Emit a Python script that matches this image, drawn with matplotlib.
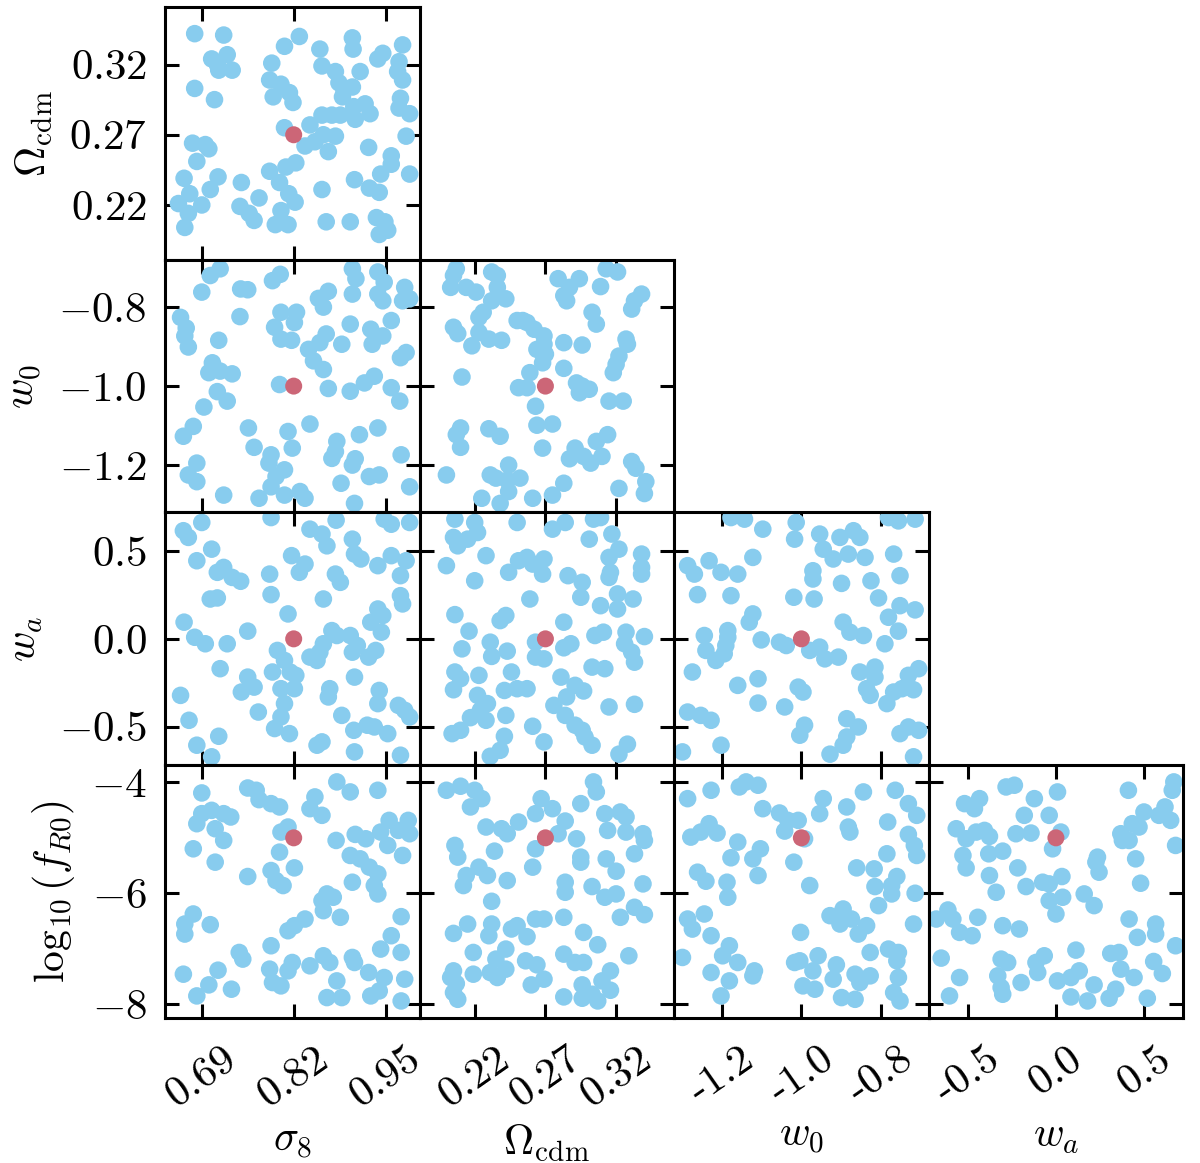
import matplotlib.pyplot as plt

plt.rcParams["mathtext.fontset"] = "cm"
plt.rcParams["font.family"] = ["cmr10", "DejaVu Serif"]
plt.rcParams["axes.unicode_minus"] = False

# parameter order: sigma8, Omega_cdm, w0, wa, log10 fR0
labels = [r"$\sigma_8$", r"$\Omega_{\mathrm{cdm}}$", r"$w_0$", r"$w_a$", r"$\log_{10}(f_{R0})$"]
fiducial = [0.82, 0.27, -1.0, 0.0, -5.0]
limits = [(0.638, 0.998), (0.181, 0.361), (-1.32, -0.68), (-0.72, 0.72), (-8.25, -3.69)]
ticks = [[0.69, 0.82, 0.95], [0.22, 0.27, 0.32], [-1.2, -1.0, -0.8], [-0.5, 0.0, 0.5], [-8, -6, -4]]
tick_text = [["0.69", "0.82", "0.95"], ["0.22", "0.27", "0.32"], ["-1.2", "-1.0", "-0.8"],
             ["-0.5", "0.0", "0.5"], ["-8", "-6", "-4"]]

# sample points, (x, y)
s8_om = [(0.680, 0.342), (0.721, 0.341), (0.704, 0.324), (0.726, 0.327), (0.714, 0.316), (0.733, 0.316),
         (0.712, 0.320), (0.680, 0.303), (0.708, 0.295), (0.677, 0.264), (0.695, 0.263), (0.700, 0.260),
         (0.683, 0.251), (0.665, 0.239), (0.713, 0.240), (0.702, 0.231), (0.673, 0.228), (0.657, 0.221),
         (0.690, 0.220), (0.671, 0.214), (0.666, 0.204), (0.746, 0.236), (0.744, 0.219), (0.757, 0.214),
         (0.764, 0.209), (0.771, 0.225), (0.794, 0.206), (0.812, 0.206), (0.802, 0.216), (0.786, 0.244),
         (0.800, 0.236), (0.809, 0.247), (0.823, 0.250), (0.813, 0.228), (0.822, 0.222), (0.807, 0.333),
         (0.828, 0.340), (0.789, 0.321), (0.786, 0.309), (0.802, 0.306), (0.814, 0.300), (0.791, 0.297),
         (0.819, 0.293), (0.807, 0.275), (0.843, 0.277), (0.836, 0.262), (0.850, 0.265), (0.862, 0.270),
         (0.879, 0.269), (0.869, 0.258), (0.860, 0.284), (0.874, 0.284), (0.886, 0.284), (0.905, 0.290),
         (0.921, 0.292), (0.907, 0.281), (0.928, 0.285), (0.926, 0.261), (0.857, 0.331), (0.860, 0.319),
         (0.879, 0.315), (0.884, 0.307), (0.891, 0.302), (0.889, 0.297), (0.903, 0.304), (0.903, 0.339),
         (0.904, 0.331), (0.914, 0.315), (0.939, 0.324), (0.946, 0.328), (0.974, 0.334), (0.969, 0.322),
         (0.967, 0.315), (0.974, 0.309), (0.971, 0.296), (0.969, 0.289), (0.984, 0.285), (0.979, 0.269),
         (0.958, 0.255), (0.958, 0.249), (0.943, 0.242), (0.984, 0.242), (0.906, 0.238), (0.927, 0.232),
         (0.941, 0.229), (0.860, 0.231), (0.866, 0.208), (0.900, 0.208), (0.937, 0.211), (0.949, 0.208),
         (0.941, 0.199), (0.953, 0.202)]

s8_w0 = [(0.716, -0.703), (0.702, -0.720), (0.690, -0.762), (0.745, -0.754), (0.755, -0.756), (0.790, -0.733),
         (0.801, -0.717), (0.744, -0.824), (0.660, -0.826), (0.668, -0.853), (0.666, -0.873), (0.671, -0.901),
         (0.714, -0.884), (0.705, -0.941), (0.700, -0.966), (0.716, -0.962), (0.733, -0.969), (0.712, -1.014),
         (0.726, -1.038), (0.693, -1.053), (0.678, -1.102), (0.664, -1.127), (0.683, -1.195), (0.671, -1.225),
         (0.683, -1.242), (0.721, -1.276), (0.756, -1.106), (0.764, -1.155), (0.788, -1.174), (0.785, -1.195),
         (0.807, -1.212), (0.795, -1.229), (0.788, -1.255), (0.771, -1.284), (0.807, -1.276), (0.829, -1.267),
         (0.836, -1.284), (0.812, -1.115), (0.818, -1.157), (0.843, -1.096), (0.800, -0.996), (0.802, -0.813),
         (0.824, -0.813), (0.821, -0.839), (0.793, -0.851), (0.802, -0.881), (0.817, -0.884), (0.841, -0.907),
         (0.857, -0.890), (0.866, -0.868), (0.848, -0.936), (0.862, -0.958), (0.855, -0.778), (0.869, -0.760),
         (0.862, -0.800), (0.888, -0.894), (0.900, -0.843), (0.903, -0.703), (0.908, -0.728), (0.903, -0.767),
         (0.939, -0.711), (0.948, -0.737), (0.939, -0.767), (0.946, -0.784), (0.977, -0.750), (0.974, -0.784),
         (0.984, -0.779), (0.958, -0.834), (0.929, -0.856), (0.946, -0.873), (0.931, -0.894), (0.979, -0.915),
         (0.971, -0.928), (0.934, -0.975), (0.920, -0.992), (0.900, -1.013), (0.869, -1.006), (0.958, -1.004),
         (0.970, -1.038), (0.939, -1.106), (0.913, -1.123), (0.881, -1.140), (0.879, -1.166), (0.874, -1.183),
         (0.907, -1.184), (0.903, -1.200), (0.927, -1.229), (0.941, -1.225), (0.887, -1.246), (0.906, -1.297),
         (0.972, -1.174), (0.984, -1.255)]

om_w0 = [(0.207, -0.703), (0.205, -0.720), (0.232, -0.711), (0.236, -0.720), (0.203, -0.750), (0.214, -0.750),
         (0.221, -0.762), (0.236, -0.750), (0.232, -0.784), (0.242, -0.779), (0.226, -0.813), (0.223, -0.826),
         (0.205, -0.851), (0.208, -0.867), (0.223, -0.864), (0.230, -0.881), (0.218, -0.898), (0.239, -0.884),
         (0.250, -0.834), (0.257, -0.839), (0.262, -0.856), (0.269, -0.873), (0.264, -0.907), (0.270, -0.919),
         (0.268, -0.941), (0.259, -0.966), (0.251, -1.004), (0.257, -1.004), (0.211, -0.977), (0.263, -1.051),
         (0.264, -1.099), (0.275, -1.096), (0.268, -1.157), (0.210, -1.106), (0.207, -1.123), (0.210, -1.155),
         (0.230, -1.108), (0.238, -1.127), (0.244, -1.200), (0.231, -1.225), (0.235, -1.233), (0.243, -1.238),
         (0.252, -1.233), (0.244, -1.267), (0.225, -1.284), (0.238, -1.297), (0.200, -1.225), (0.261, -1.284),
         (0.275, -1.276), (0.283, -1.246), (0.279, -0.728), (0.294, -0.728), (0.287, -0.750), (0.283, -0.771),
         (0.285, -0.784), (0.309, -0.748), (0.313, -0.703), (0.321, -0.711), (0.303, -0.813), (0.306, -0.843),
         (0.338, -0.767), (0.333, -0.784), (0.331, -0.805), (0.283, -0.890), (0.296, -0.896), (0.283, -0.955),
         (0.292, -0.992), (0.296, -1.000), (0.301, -1.008), (0.294, -1.017), (0.327, -0.881), (0.328, -0.894),
         (0.322, -0.924), (0.320, -0.945), (0.318, -0.966), (0.315, -1.038), (0.325, -1.038), (0.314, -1.123),
         (0.306, -1.140), (0.291, -1.157), (0.287, -1.184), (0.297, -1.178), (0.302, -1.195), (0.310, -1.178),
         (0.331, -1.191), (0.334, -1.208), (0.341, -1.242), (0.340, -1.272), (0.322, -1.259), (0.269, -0.894),
         (0.254, -0.834)]

s8_wa = [(0.690, 0.663), (0.664, 0.616), (0.671, 0.578), (0.704, 0.511), (0.683, 0.445), (0.712, 0.379),
         (0.721, 0.407), (0.733, 0.350), (0.745, 0.328), (0.702, 0.227), (0.712, 0.233), (0.665, 0.095),
         (0.680, 0.009), (0.695, -0.028), (0.726, -0.028), (0.755, 0.044), (0.716, -0.170), (0.755, -0.218),
         (0.764, -0.275), (0.746, -0.303), (0.660, -0.322), (0.672, -0.464), (0.714, -0.555), (0.683, -0.606),
         (0.704, -0.672), (0.770, -0.417), (0.788, 0.691), (0.786, 0.369), (0.788, 0.252), (0.817, 0.474),
         (0.836, 0.426), (0.828, 0.379), (0.812, 0.142), (0.797, -0.066), (0.807, -0.123), (0.790, -0.189),
         (0.815, -0.189), (0.823, -0.208), (0.802, -0.284), (0.821, -0.284), (0.807, -0.369), (0.802, -0.445),
         (0.793, -0.511), (0.814, -0.540), (0.843, 0.625), (0.860, 0.597), (0.867, 0.530), (0.880, 0.676),
         (0.879, 0.369), (0.886, 0.322), (0.862, 0.227), (0.874, 0.047), (0.881, 0.019), (0.900, 0.019),
         (0.862, -0.028), (0.857, -0.076), (0.843, -0.104), (0.853, -0.123), (0.910, -0.038), (0.903, -0.076),
         (0.926, -0.104), (0.936, -0.066), (0.903, 0.568), (0.906, 0.483), (0.915, 0.455), (0.939, 0.417),
         (0.958, 0.474), (0.979, 0.445), (0.971, 0.360), (0.971, 0.246), (0.974, 0.199), (0.939, 0.170),
         (0.946, 0.133), (0.929, 0.095), (0.944, 0.038), (0.948, 0.682), (0.958, 0.653), (0.984, 0.663),
         (0.906, -0.218), (0.941, -0.294), (0.939, -0.369), (0.871, -0.284), (0.869, -0.331), (0.888, -0.436),
         (0.905, -0.521), (0.924, -0.492), (0.934, -0.502), (0.953, -0.540), (0.906, -0.644), (0.860, -0.587),
         (0.853, -0.606), (0.968, -0.379), (0.977, -0.407), (0.984, -0.445), (0.971, -0.663)]

om_wa = [(0.206, 0.682), (0.220, 0.663), (0.205, 0.578), (0.208, 0.530), (0.215, 0.568), (0.222, 0.606),
         (0.200, 0.417), (0.228, 0.474), (0.220, 0.331), (0.250, 0.663), (0.275, 0.625), (0.284, 0.663),
         (0.304, 0.682), (0.309, 0.691), (0.301, 0.568), (0.317, 0.597), (0.322, 0.511), (0.315, 0.464),
         (0.316, 0.379), (0.315, 0.350), (0.338, 0.483), (0.338, 0.407), (0.338, 0.369), (0.251, 0.445),
         (0.257, 0.464), (0.261, 0.426), (0.269, 0.455), (0.268, 0.369), (0.244, 0.379), (0.286, 0.360),
         (0.296, 0.322), (0.295, 0.237), (0.259, 0.227), (0.309, 0.189), (0.321, 0.256), (0.321, 0.170),
         (0.332, 0.227), (0.206, 0.138), (0.242, 0.133), (0.238, 0.104), (0.216, 0.044), (0.211, -0.057),
         (0.231, -0.019), (0.232, -0.100), (0.243, -0.070), (0.263, -0.019), (0.263, -0.104), (0.269, -0.114),
         (0.283, 0.095), (0.283, -0.051), (0.288, -0.028), (0.305, 0.019), (0.311, 0.038), (0.327, 0.038),
         (0.326, -0.028), (0.331, -0.076), (0.333, -0.133), (0.340, 0.013), (0.303, -0.161), (0.312, -0.170),
         (0.206, -0.189), (0.210, -0.227), (0.205, -0.290), (0.223, -0.208), (0.246, -0.189), (0.241, -0.294),
         (0.222, -0.322), (0.229, -0.369), (0.224, -0.407), (0.217, -0.449), (0.228, -0.464), (0.242, -0.436),
         (0.210, -0.521), (0.204, -0.540), (0.250, -0.284), (0.257, -0.284), (0.281, -0.218), (0.291, -0.265),
         (0.297, -0.297), (0.285, -0.331), (0.276, -0.379), (0.284, -0.436), (0.291, -0.492), (0.296, -0.521),
         (0.298, -0.559), (0.303, -0.606), (0.261, -0.498), (0.269, -0.587), (0.241, -0.555), (0.238, -0.635),
         (0.231, -0.669), (0.315, -0.388), (0.333, -0.373), (0.328, -0.600), (0.322, -0.657)]

w0_wa = [(-1.177, 0.691), (-1.143, 0.682), (-1.097, 0.625), (-1.013, 0.663), (-1.017, 0.568), (-0.954, 0.597),
         (-0.903, 0.578), (-0.869, 0.616), (-0.853, 0.578), (-0.945, 0.511), (-0.920, 0.455), (-0.882, 0.483),
         (-0.840, 0.464), (-0.781, 0.691), (-0.756, 0.672), (-0.714, 0.682), (-0.768, 0.483), (-0.752, 0.360),
         (-0.825, 0.331), (-0.899, 0.316), (-0.971, 0.388), (-0.971, 0.341), (-1.019, 0.237), (-0.968, 0.227),
         (-0.806, 0.233), (-0.752, 0.189), (-0.714, 0.165), (-0.781, 0.123), (-0.756, 0.044), (-0.790, -0.028),
         (-0.895, 0.095), (-0.878, 0.038), (-0.844, 0.019), (-1.286, 0.417), (-1.269, 0.369), (-1.232, 0.445),
         (-1.202, 0.379), (-1.160, 0.369), (-1.261, 0.252), (-1.177, 0.246), (-1.122, 0.142), (-1.131, 0.095),
         (-1.122, 0.464), (-1.244, 0.019), (-1.185, 0.047), (-1.185, 0.009), (-1.240, -0.066), (-1.215, -0.123),
         (-1.194, -0.085), (-1.190, -0.038), (-1.101, -0.006), (-1.055, -0.019), (-1.038, -0.038), (-0.979, -0.066),
         (-0.954, -0.047), (-0.941, -0.114), (-0.907, -0.104), (-1.274, -0.189), (-1.160, -0.265), (-1.109, -0.227),
         (-1.109, -0.366), (-1.008, -0.275), (-0.996, -0.303), (-1.042, -0.388), (-1.286, -0.417), (-1.253, -0.436),
         (-1.227, -0.464), (-1.299, -0.644), (-1.202, -0.606), (-0.992, -0.492), (-1.004, -0.549), (-0.928, -0.657),
         (-0.886, -0.455), (-0.857, -0.502), (-0.886, -0.559), (-0.895, -0.606), (-0.853, -0.189), (-0.815, -0.161),
         (-0.815, -0.218), (-0.836, -0.284), (-0.827, -0.322), (-0.785, -0.369), (-0.768, -0.303), (-0.747, -0.284),
         (-0.718, -0.290), (-0.731, -0.208), (-0.705, -0.170), (-0.752, -0.540), (-0.731, -0.502), (-0.705, -0.521),
         (-0.718, -0.672)]

s8_fr = [(0.690, -4.190), (0.755, -4.101), (0.767, -4.142), (0.771, -4.311), (0.788, -4.383), (0.800, -4.443),
         (0.850, -4.262), (0.843, -4.474), (0.860, -4.594), (0.881, -3.991), (0.900, -4.172), (0.939, -4.142),
         (0.690, -4.564), (0.704, -4.504), (0.721, -4.564), (0.731, -4.624), (0.683, -4.745), (0.709, -4.836),
         (0.721, -5.047), (0.678, -5.198), (0.709, -5.439), (0.755, -5.698), (0.812, -4.805), (0.802, -4.896),
         (0.800, -5.258), (0.821, -5.542), (0.788, -5.590), (0.795, -5.771), (0.805, -5.861), (0.880, -5.047),
         (0.907, -4.938), (0.922, -5.017), (0.943, -4.896), (0.955, -4.685), (0.982, -4.685), (0.968, -4.866),
         (0.984, -4.926), (0.953, -5.137), (0.974, -5.318), (0.900, -5.318), (0.914, -5.379), (0.927, -5.529),
         (0.939, -5.650), (0.903, -5.801), (0.934, -5.861), (0.939, -6.012), (0.867, -6.012), (0.860, -6.133),
         (0.876, -6.072), (0.862, -6.314), (0.886, -6.434), (0.836, -6.465), (0.821, -6.585), (0.812, -6.676),
         (0.678, -6.374), (0.666, -6.555), (0.666, -6.736), (0.702, -6.567), (0.743, -7.068), (0.748, -7.188),
         (0.788, -6.947), (0.972, -6.422), (0.958, -6.766), (0.943, -7.007), (0.972, -7.068), (0.862, -7.128),
         (0.871, -7.249), (0.903, -7.158), (0.906, -7.249), (0.818, -7.249), (0.812, -7.400), (0.843, -7.309),
         (0.786, -7.369), (0.790, -7.611), (0.802, -7.671), (0.664, -7.460), (0.713, -7.388), (0.700, -7.653),
         (0.683, -7.852), (0.732, -7.731), (0.881, -7.581), (0.867, -7.882), (0.888, -7.882), (0.926, -7.430),
         (0.948, -7.520), (0.977, -7.550), (0.929, -7.852), (0.941, -7.762), (0.972, -7.943)]

om_fr = [(0.200, -4.142), (0.210, -4.069), (0.220, -4.142), (0.225, -4.293), (0.217, -4.443), (0.228, -4.805),
         (0.239, -4.836), (0.243, -4.926), (0.251, -4.715), (0.206, -5.137), (0.208, -5.348), (0.234, -5.240),
         (0.263, -4.564), (0.267, -4.293), (0.275, -4.474), (0.284, -4.697), (0.279, -4.926), (0.263, -5.198),
         (0.261, -5.529), (0.295, -4.383), (0.304, -3.991), (0.306, -4.172), (0.292, -5.017), (0.295, -5.348),
         (0.295, -5.439), (0.312, -4.564), (0.323, -4.534), (0.327, -4.624), (0.314, -4.866), (0.327, -4.896),
         (0.339, -4.926), (0.340, -5.047), (0.333, -5.288), (0.313, -5.379), (0.320, -5.602), (0.339, -5.831),
         (0.214, -5.680), (0.212, -5.861), (0.223, -5.529), (0.229, -5.680), (0.243, -5.771), (0.232, -6.145),
         (0.284, -5.801), (0.284, -5.982), (0.303, -5.879), (0.312, -6.072), (0.320, -6.012), (0.333, -6.253),
         (0.323, -6.434), (0.340, -6.386), (0.205, -6.724), (0.215, -6.555), (0.232, -6.555), (0.230, -6.766),
         (0.246, -6.645), (0.250, -6.585), (0.257, -6.784), (0.263, -6.465), (0.269, -6.465), (0.283, -6.434),
         (0.297, -6.706), (0.307, -6.929), (0.329, -7.128), (0.219, -7.068), (0.242, -7.007), (0.235, -7.188),
         (0.205, -7.400), (0.203, -7.520), (0.207, -7.629), (0.205, -7.792), (0.208, -7.913), (0.219, -7.460),
         (0.231, -7.430), (0.236, -7.520), (0.242, -7.369), (0.256, -7.219), (0.264, -7.291), (0.269, -7.550),
         (0.260, -7.653), (0.283, -7.098), (0.291, -7.249), (0.297, -7.249), (0.283, -7.870), (0.296, -7.653),
         (0.296, -7.894), (0.307, -7.943), (0.316, -7.400), (0.310, -7.581), (0.316, -7.750), (0.303, -7.822)]

w0_fr = [(-1.286, -4.293), (-1.227, -4.142), (-1.156, -4.082), (-1.139, -3.991), (-1.109, -4.051), (-1.097, -4.474),
         (-1.055, -4.552), (-1.034, -4.685), (-1.008, -4.685), (-1.042, -4.878), (-0.992, -5.017), (-0.954, -4.564),
         (-0.945, -4.293), (-0.886, -4.443), (-0.882, -4.805), (-0.878, -4.896), (-0.844, -4.172), (-0.764, -4.142),
         (-0.731, -4.383), (-0.710, -4.594), (-0.783, -4.715), (-0.731, -4.938), (-0.716, -5.137), (-0.710, -5.318),
         (-0.785, -5.288), (-1.278, -4.987), (-1.253, -4.896), (-1.232, -4.745), (-1.212, -4.914), (-1.160, -5.077),
         (-1.177, -5.360), (-1.122, -5.379), (-1.103, -5.198), (-1.109, -5.680), (-1.019, -5.439), (-0.979, -5.861),
         (-1.261, -5.620), (-1.240, -5.783), (-1.187, -5.801), (-1.185, -6.072), (-0.861, -5.542), (-0.817, -5.560),
         (-0.815, -5.879), (-0.760, -5.698), (-0.773, -5.861), (-0.773, -6.012), (-0.806, -6.223), (-0.714, -6.000),
         (-0.718, -6.555), (-1.286, -6.465), (-1.244, -6.374), (-1.274, -6.646), (-1.227, -6.766), (-1.299, -7.158),
         (-1.181, -6.947), (-1.198, -7.128), (-1.160, -7.249), (-1.227, -7.430), (-1.181, -7.581), (-1.122, -7.490),
         (-1.118, -7.400), (-1.202, -7.852), (-1.002, -6.706), (-0.928, -6.404), (-0.895, -6.284), (-0.903, -6.555),
         (-0.874, -6.465), (-0.836, -6.585), (-0.857, -6.736), (-0.827, -7.068), (-0.781, -7.007), (-0.756, -7.068),
         (-0.760, -7.219), (-1.017, -7.249), (-1.004, -7.219), (-0.958, -7.128), (-0.971, -7.400), (-0.996, -7.671),
         (-0.966, -7.731), (-0.912, -7.291), (-0.920, -7.550), (-0.865, -7.460), (-0.827, -7.490), (-0.853, -7.611),
         (-0.756, -7.520), (-0.768, -7.792), (-0.752, -7.943), (-0.899, -7.882), (-0.865, -7.913)]

wa_fr = [(-0.282, -4.082), (-0.235, -4.051), (-0.517, -4.383), (-0.432, -4.293), (-0.461, -4.474), (-0.564, -4.836),
         (-0.508, -5.017), (-0.451, -4.896), (-0.404, -4.866), (-0.376, -4.974), (-0.526, -5.318), (-0.508, -5.542),
         (-0.380, -5.288), (-0.301, -5.240), (-0.376, -5.680), (-0.338, -5.982), (-0.216, -5.542), (-0.226, -4.926),
         (-0.141, -4.914), (-0.179, -4.594), (-0.122, -4.293), (-0.038, -4.594), (0.009, -4.172), (0.028, -4.896),
         (-0.019, -5.198), (-0.169, -5.879), (-0.075, -5.801), (-0.038, -5.831), (0.034, -5.698), (-0.038, -6.133),
         (0.038, -6.072), (0.000, -6.374), (-0.677, -6.465), (-0.611, -6.302), (-0.583, -6.465), (-0.545, -6.706),
         (-0.474, -6.766), (-0.442, -6.434), (-0.301, -6.585), (-0.207, -6.645), (-0.649, -7.170), (-0.545, -7.520),
         (-0.602, -7.852), (-0.310, -7.188), (-0.273, -7.249), (-0.329, -7.490), (-0.310, -7.701), (-0.301, -7.822),
         (-0.197, -7.611), (-0.113, -7.249), (-0.103, -7.430), (-0.066, -7.128), (0.009, -7.581), (0.085, -7.520),
         (0.132, -7.400), (0.113, -7.026), (0.085, -7.870), (0.179, -7.943), (0.216, -7.653), (0.160, -6.012),
         (0.216, -6.223), (0.226, -5.439), (0.244, -5.620), (0.235, -5.348), (0.367, -4.926), (0.376, -5.047),
         (0.414, -5.047), (0.432, -4.745), (0.470, -4.805), (0.498, -4.534), (0.583, -4.594), (0.617, -4.443),
         (0.649, -4.685), (0.410, -4.142), (0.658, -4.142), (0.667, -3.991), (0.677, -5.137), (0.451, -5.379),
         (0.479, -5.819), (0.414, -6.465), (0.461, -6.796), (0.564, -6.555), (0.564, -6.736), (0.677, -6.947),
         (0.310, -7.086), (0.357, -7.068), (0.367, -7.369), (0.442, -7.520), (0.553, -7.231), (0.602, -7.448),
         (0.338, -7.731), (0.301, -7.894), (0.517, -7.894)]

# (x parameter, y parameter) -> points
panels = {
    (0, 1): s8_om,
    (0, 2): s8_w0, (1, 2): om_w0,
    (0, 3): s8_wa, (1, 3): om_wa, (2, 3): w0_wa,
    (0, 4): s8_fr, (1, 4): om_fr, (2, 4): w0_fr, (3, 4): wa_fr,
}

sample_color = "#88CCEE"
fid_color = "#CC6677"

fig, axes = plt.subplots(4, 4, figsize=(12, 11.63), dpi=100)
fig.subplots_adjust(left=0.1375, right=0.986, top=0.994, bottom=0.1247, wspace=0, hspace=0)

for row in range(4):
    for col in range(4):
        ax = axes[row, col]
        ip, jp = col, row + 1
        if col > row:
            ax.axis("off")
            continue
        pts = panels[(ip, jp)]
        xs = [p[0] for p in pts]
        ys = [p[1] for p in pts]
        ax.scatter(xs, ys, s=160, color=sample_color, edgecolors="none", zorder=2)
        ax.scatter([fiducial[ip]], [fiducial[jp]], s=150, color=fid_color, edgecolors="none", zorder=3)

        ax.set_xlim(limits[ip])
        ax.set_ylim(limits[jp])
        ax.set_xticks(ticks[ip])
        ax.set_yticks(ticks[jp])
        ax.tick_params(direction="in", length=10, width=2.2, top=True, right=True, pad=13)
        ax.tick_params(axis="x", pad=16)
        for sp in ax.spines.values():
            sp.set_linewidth(2.2)

        if col == 0:
            ax.set_yticklabels(["$%s$" % t for t in tick_text[jp]], fontsize=31)
            ax.set_ylabel(labels[jp], fontsize=30, labelpad=10)
        else:
            ax.set_yticklabels([])
        if row == 3:
            ax.set_xticklabels(tick_text[ip], fontsize=31, rotation=35, ha="center")
            ax.set_xlabel(labels[ip], fontsize=30, labelpad=6)
        else:
            ax.set_xticklabels([])

fig.savefig("out.png", dpi=100)
